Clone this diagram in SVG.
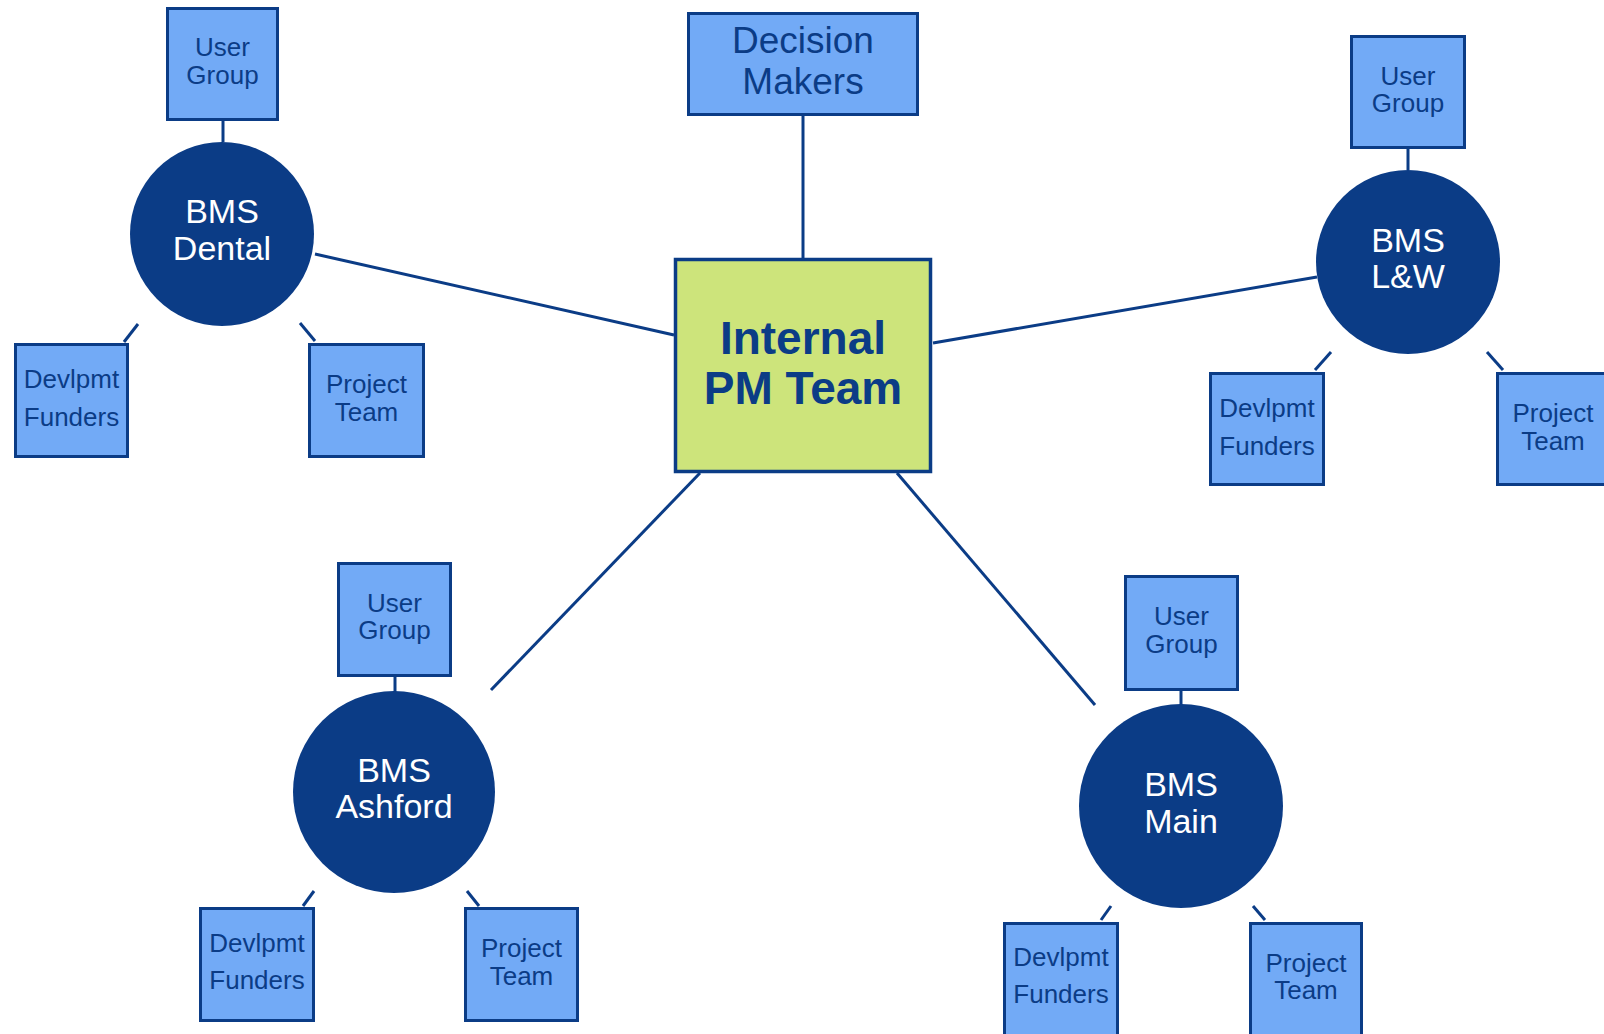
<svg xmlns="http://www.w3.org/2000/svg" width="1604" height="1034" viewBox="0 0 1604 1034">
<style>
.box{fill:#72aaf6;stroke:#0b3c86;stroke-width:3}
.core{fill:#cde47b;stroke:#0b3c86;stroke-width:3.5}
.hub{fill:#0b3c86}
.ln{stroke:#0b3c86;stroke-width:3;fill:none}
text{font-family:"Liberation Sans",Arial,sans-serif;text-anchor:middle}
.s{font-size:26px;fill:#0b3c86}
.h{font-size:34px;fill:#ffffff}
.d{font-size:37px;fill:#0b3c86}
.c{font-size:46px;font-weight:bold;fill:#0b3c86}
</style>
<rect width="1604" height="1034" fill="#ffffff"/>
<g id="connectors">
<line class="ln" x1="803" y1="116" x2="803" y2="258"/>
<line class="ln" x1="315" y1="254" x2="674" y2="335"/>
<line class="ln" x1="1317" y1="277" x2="933" y2="343"/>
<line class="ln" x1="491" y1="690" x2="700" y2="473"/>
<line class="ln" x1="1095" y1="705" x2="897" y2="473"/>
<line class="ln" x1="223" y1="121" x2="223" y2="142"/>
<line class="ln" x1="1408" y1="149" x2="1408" y2="170"/>
<line class="ln" x1="395" y1="677" x2="395" y2="692"/>
<line class="ln" x1="1181" y1="691" x2="1181" y2="705"/>
<line class="ln" x1="138" y1="324" x2="124" y2="342"/>
<line class="ln" x1="300" y1="323" x2="315" y2="341"/>
<line class="ln" x1="1331" y1="352" x2="1315" y2="370"/>
<line class="ln" x1="1487" y1="352" x2="1503" y2="370"/>
<line class="ln" x1="314" y1="891" x2="303" y2="906"/>
<line class="ln" x1="467" y1="891" x2="479" y2="906"/>
<line class="ln" x1="1111" y1="906" x2="1101" y2="920"/>
<line class="ln" x1="1253" y1="906" x2="1265" y2="920"/>
</g>
<g id="decision-makers">
<rect class="box" x="688.5" y="13.5" width="229" height="101"/>
<text class="d" x="803" y="53">Decision</text>
<text class="d" x="803" y="94">Makers</text>
</g>
<g id="internal-pm-team">
<rect class="core" x="675.5" y="259.5" width="255" height="212"/>
<text class="c" x="803" y="354">Internal</text>
<text class="c" x="803" y="404">PM Team</text>
</g>
<g id="bms-dental">
<circle class="hub" cx="222" cy="234" r="92"/>
<text class="h" x="222" y="223">BMS</text>
<text class="h" x="222" y="260">Dental</text>
</g>
<g id="dental-user-group">
<rect class="box" x="167.5" y="8.5" width="110" height="111"/>
<text class="s" x="222.5" y="56">User</text>
<text class="s" x="222.5" y="84">Group</text>
</g>
<g id="dental-devlpmt-funders">
<rect class="box" x="15.5" y="344.5" width="112" height="112"/>
<text class="s" x="71.5" y="388">Devlpmt</text>
<text class="s" x="71.5" y="426">Funders</text>
</g>
<g id="dental-project-team">
<rect class="box" x="309.5" y="344.5" width="114" height="112"/>
<text class="s" x="366.5" y="393">Project</text>
<text class="s" x="366.5" y="421">Team</text>
</g>
<g id="bms-lw">
<circle class="hub" cx="1408" cy="262" r="92"/>
<text class="h" x="1408" y="252">BMS</text>
<text class="h" x="1408" y="288">L&amp;W</text>
</g>
<g id="lw-user-group">
<rect class="box" x="1351.5" y="36.5" width="113" height="111"/>
<text class="s" x="1408" y="85">User</text>
<text class="s" x="1408" y="112">Group</text>
</g>
<g id="lw-devlpmt-funders">
<rect class="box" x="1210.5" y="373.5" width="113" height="111"/>
<text class="s" x="1267" y="417">Devlpmt</text>
<text class="s" x="1267" y="455">Funders</text>
</g>
<g id="lw-project-team">
<rect class="box" x="1497.5" y="373.5" width="113" height="111"/>
<text class="s" x="1553" y="422">Project</text>
<text class="s" x="1553" y="450">Team</text>
</g>
<g id="bms-ashford">
<circle class="hub" cx="394" cy="792" r="101"/>
<text class="h" x="394" y="782">BMS</text>
<text class="h" x="394" y="818">Ashford</text>
</g>
<g id="ashford-user-group">
<rect class="box" x="338.5" y="563.5" width="112" height="112"/>
<text class="s" x="394.5" y="612">User</text>
<text class="s" x="394.5" y="639">Group</text>
</g>
<g id="ashford-devlpmt-funders">
<rect class="box" x="200.5" y="908.5" width="113" height="112"/>
<text class="s" x="257" y="952">Devlpmt</text>
<text class="s" x="257" y="989">Funders</text>
</g>
<g id="ashford-project-team">
<rect class="box" x="465.5" y="908.5" width="112" height="112"/>
<text class="s" x="521.5" y="957">Project</text>
<text class="s" x="521.5" y="985">Team</text>
</g>
<g id="bms-main">
<circle class="hub" cx="1181" cy="806" r="102"/>
<text class="h" x="1181" y="796">BMS</text>
<text class="h" x="1181" y="833">Main</text>
</g>
<g id="main-user-group">
<rect class="box" x="1125.5" y="576.5" width="112" height="113"/>
<text class="s" x="1181.5" y="625">User</text>
<text class="s" x="1181.5" y="653">Group</text>
</g>
<g id="main-devlpmt-funders">
<rect class="box" x="1004.5" y="923.5" width="113" height="112"/>
<text class="s" x="1061" y="966">Devlpmt</text>
<text class="s" x="1061" y="1003">Funders</text>
</g>
<g id="main-project-team">
<rect class="box" x="1250.5" y="923.5" width="111" height="112"/>
<text class="s" x="1306" y="972">Project</text>
<text class="s" x="1306" y="999">Team</text>
</g>
</svg>
